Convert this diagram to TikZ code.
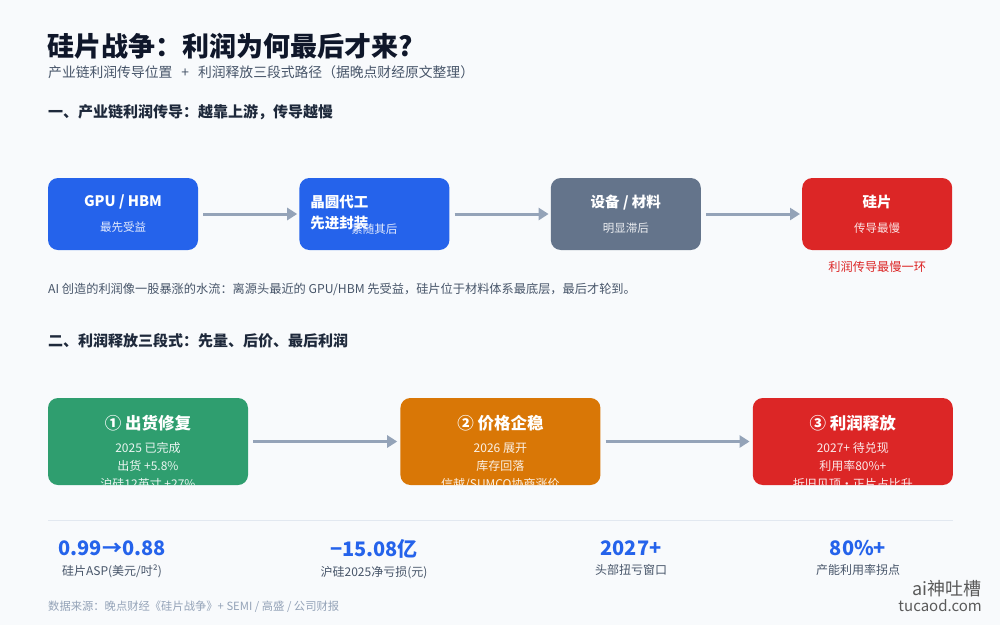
\documentclass[tikz,border=0pt]{standalone}
\usepackage{fontspec}
\setmainfont{Noto Sans CJK SC}
\usetikzlibrary{arrows.meta,positioning}

\definecolor{pagebg}{HTML}{F8FAFC}
\definecolor{titledark}{HTML}{0F172A}
\definecolor{headdark}{HTML}{1E293B}
\definecolor{subgray}{HTML}{475569}
\definecolor{srcgray}{HTML}{94A3B8}
\definecolor{arrowgray}{HTML}{94A3B8}
\definecolor{rulegray}{HTML}{E2E8F0}
\definecolor{upblue}{HTML}{2563EB}
\definecolor{slatebox}{HTML}{64748B}
\definecolor{hotred}{HTML}{DC2626}
\definecolor{shipgreen}{HTML}{2F9E6F}
\definecolor{priceamber}{HTML}{D97706}
\definecolor{markgray}{HTML}{5A5A5A}

\newcommand{\pxfont}[2]{\fontsize{#1}{#2}\selectfont}

\begin{document}
\begin{tikzpicture}[
  x=1pt, y=-1pt,
  font=\pxfont{12.2}{14},
  chain/.style={rounded corners=10pt, minimum width=150pt, minimum height=72pt,
    inner sep=0pt, align=center, text=white, font=\pxfont{11.5}{14}},
  chainsub/.style={font=\pxfont{11.5}{14}, inner sep=0pt},
  phase/.style={rounded corners=10pt, minimum width=200pt, minimum height=87pt, inner sep=0pt},
  phasetxt/.style={align=center, inner sep=0pt, font=\pxfont{12}{18}},
  sechead/.style={anchor=west, inner sep=0pt, font=\pxfont{15}{18}\bfseries, text=headdark},
  statval/.style={inner sep=0pt, font=\pxfont{20}{24}\bfseries, text=upblue},
  statlbl/.style={inner sep=0pt, font=\pxfont{12}{14}, text=subgray},
  arr/.style={-{Triangle[length=10pt,width=12pt]}, line width=3pt, draw=arrowgray}
]
\fill[pagebg] (0,0) rectangle (1000,625);

% header
\node[anchor=west, inner sep=0pt, font=\pxfont{27}{30}\bfseries, text=titledark] (title)
  at (47,46.5) {硅片战争：利润为何最后才来?};
\node[anchor=west, inner sep=0pt, font=\pxfont{13.8}{16}, text=subgray] (subtitle)
  at (48,72) {产业链利润传导位置\hspace{9pt}+\hspace{9pt}利润释放三段式路径（据晚点财经原文整理）};

% part one: where the profit arrives
\node[sechead] (sec1) at (48,112) {一、产业链利润传导：越靠上游，传导越慢};

\node[chain, fill=upblue, text=white!88!upblue] (gpu) at (123,214)
  {{\pxfont{14.5}{17}\bfseries\color{white}GPU / HBM}\\[11pt]最先受益};
\node[chain, fill=upblue, right=101pt of gpu] (fab) {};
\node[anchor=north west, align=left, inner sep=0pt, text=white, font=\pxfont{14.5}{21.5}\bfseries]
  (fabhead) at ([xshift=11pt,yshift=-17pt]fab.north west) {晶圆代工\\先进封装};
\node[chainsub, text=white!88!upblue] (fabsub) at ([yshift=-15pt]fab.center) {紧随其后};
\node[chain, fill=slatebox, text=white!88!slatebox, right=101pt of fab] (equip)
  {{\pxfont{14.5}{17}\bfseries\color{white}设备 / 材料}\\[11pt]明显滞后};
\node[chain, fill=hotred, text=white!88!hotred, right=101pt of equip] (wafer)
  {{\pxfont{14.5}{17}\bfseries\color{white}硅片}\\[11pt]传导最慢};
\node[below=11pt of wafer, inner sep=0pt, text=hotred] (slowest) {利润传导最慢一环};

\draw[arr, shorten <=5pt, shorten >=2pt] (gpu) -- (fab);
\draw[arr, shorten <=5pt, shorten >=2pt] (fab) -- (equip);
\draw[arr, shorten <=5pt, shorten >=2pt] (equip) -- (wafer);

\node[anchor=west, inner sep=0pt, text=subgray] (flow) at (48,289)
  {AI 创造的利润像一股暴涨的水流：离源头最近的 GPU/HBM 先受益，硅片位于材料体系最底层，最后才轮到。};

% part two: three stages
\node[sechead] (sec2) at (48,341) {二、利润释放三段式：先量、后价、最后利润};

\node[phase, fill=shipgreen] (ship) at (148,441.5) {};
\node[phase, fill=priceamber, right=152pt of ship] (price) {};
\node[phase, fill=hotred, right=152pt of price] (profit) {};

\begin{scope}
  \clip[rounded corners=10pt] (ship.south west) rectangle (ship.north east);
  \node[phasetxt, text=white!90!shipgreen, below=17pt of ship.north] (shiptxt)
    {{\pxfont{16.5}{18}\bfseries\color{white}① 出货修复}\\[5.5pt]2025 已完成\\出货 +5.8\%\\沪硅12英寸 +27\%};
\end{scope}
\begin{scope}
  \clip[rounded corners=10pt] (price.south west) rectangle (price.north east);
  \node[phasetxt, text=white!90!priceamber, below=17pt of price.north] (pricetxt)
    {{\pxfont{16.5}{18}\bfseries\color{white}② 价格企稳}\\[5.5pt]2026 展开\\库存回落\\信越/SUMCO协商涨价};
\end{scope}
\begin{scope}
  \clip[rounded corners=10pt] (profit.south west) rectangle (profit.north east);
  \node[phasetxt, text=white!90!hotred, below=17pt of profit.north] (profittxt)
    {{\pxfont{16.5}{18}\bfseries\color{white}③ 利润释放}\\[5.5pt]2027+ 待兑现\\利用率80\%+\\折旧见顶·正片占比升};
\end{scope}

\draw[arr, shorten <=5pt, shorten >=3pt] (ship) -- (price);
\draw[arr, shorten <=5pt, shorten >=3pt] (price) -- (profit);

% key figures
\draw[rulegray, line width=1pt] (48,520) -- (953,520);

\node[statval] (asp) at (112,548.5) {0.99→0.88};
\node[statlbl, below=8pt of asp] (asplbl) {硅片ASP(美元/吋²)};
\node[statval] (loss) at (374,548.5) {−15.08亿};
\node[statlbl, below=8pt of loss] (losslbl) {沪硅2025净亏损(元)};
\node[statval] (turn) at (631,548.5) {2027+};
\node[statlbl, below=8pt of turn] (turnlbl) {头部扭亏窗口};
\node[statval] (util) at (858,548.5) {80\%+};
\node[statlbl, below=8pt of util] (utillbl) {产能利用率拐点};

% footer
\node[anchor=west, inner sep=0pt, font=\pxfont{11.3}{13}, text=srcgray] (source) at (48,607)
  {数据来源：晚点财经《硅片战争》+ SEMI / 高盛 / 公司财报};
\node[anchor=east, inner sep=0pt, font=\pxfont{18}{20}, text=markgray] (mark) at (982,589) {ai神吐槽};
\node[anchor=east, inner sep=0pt, font=\pxfont{15}{17}, text=markgray] (site) at (982,606) {tucaod.com};
\end{tikzpicture}
\end{document}
